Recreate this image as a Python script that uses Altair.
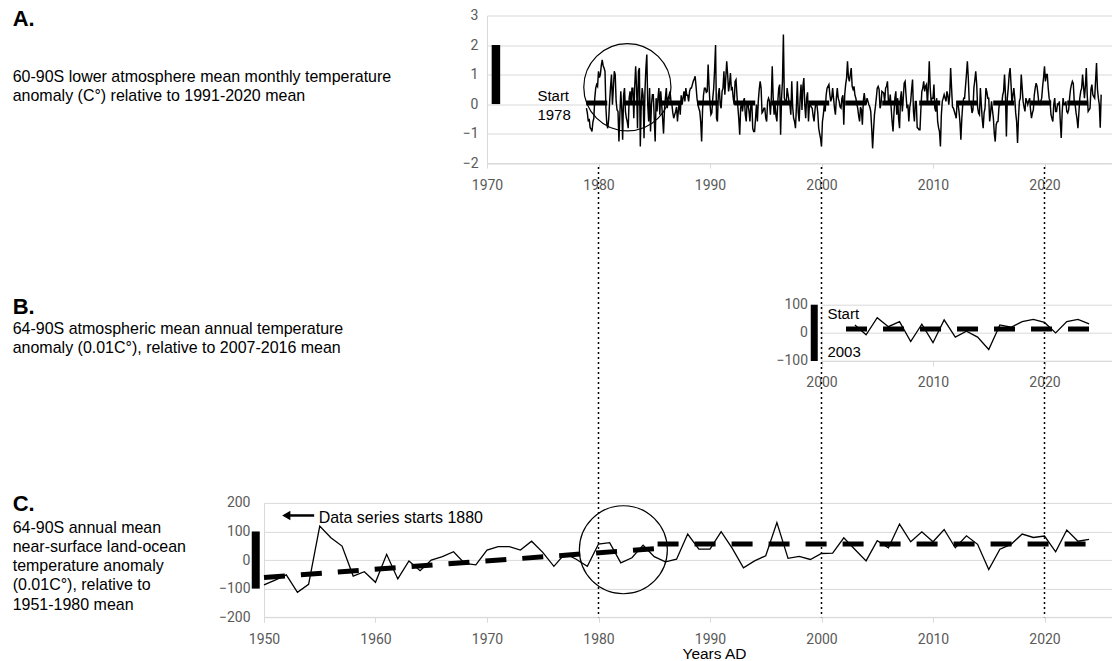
import altair as alt
import pandas as pd

# ---------------- data ----------------
# Panel A: 60-90S lower atmosphere monthly anomaly (deg C), Dec 1978 onward
A_1978_1989 = [
    -0.14,
    -0.3, -0.59, -0.5, -0.8, -0.85, -0.93, -0.6, -0.48, 0.2, 0.54, 0.66, 0.6,
    1.11, 0.9, 1.0, 1.3, 1.5, 1.3, 1.22, 1.11, -0.14, -0.7, -0.82, -0.5,
    0.09, 0.6, 1.0, -0.02, 0.54, 1.11, 1.0, 0.09, -0.2, -0.25, -1.27, -0.36,
    0.43, -0.14, -1.21, 0.3, 0.54, -0.25, -0.48, -0.6, -0.82, 0.2, 0.43, -0.02,
    0.54, 0.54, -0.48, 0.6, 1.28, 0.54, -0.82, 1.11, 1.22, -1.44, -0.02, 0.54,
    0.3, -1.16, 0.43, 1.2, 1.68, -0.02, -0.59, 0.54, -0.93, -0.02, 0.32, 0.32,
    -0.5, -1.27, 0.2, -0.25, 0.2, 0.54, -0.36, 0.43, -0.02, -0.48, -1.0, -0.2,
    0.2, 0.54, -0.14, 0.2, 0.3, 0.43, 0.1, -0.02, -0.3, -0.48, -0.36, -0.25,
    -0.1, -0.59, -0.2, 0.09, -0.36, 0.3, -0.02, 0.2, 0.43, 0.09, 0.54, 0.3,
    0.3, 0.09, 0.43, 0.54, 0.54, 0.66, 0.77, 0.85, 0.94, 0.6, 0.2, -0.02,
    -0.14, -0.25, -0.6, -1.27, -0.2, 0.3, 0.54, 0.54, 0.4, 0.43, 1.34, 0.6,
]
A_1990_1999 = [
    -0.02, -0.36, -0.3, 0.2, 0.54, 1.2, 2.0, -0.48, -0.59, 0.32, 0.54, -0.02,
    -0.14, 0.43, 0.54, 1.11, 0.32, 0.9, 1.45, 1.0, 0.43, 0.66, 1.05, 0.5,
    0.54, 0.2, -0.02, 0.77, 0.83, 0.3, -0.1, -0.5, -1.04, -0.14, 0.09, -0.25,
    0.1, 0.2, -0.36, -0.59, 0.09, -0.02, -0.25, -0.59, -0.02, 0.09, -0.82, -0.93,
    -0.93, -0.5, -0.02, -0.59, 0.1, 0.5, 0.77, 0.54, -0.3, -0.25, -0.14, -0.14,
    -0.48, -0.59, 0.09, 0.2, 0.1, -0.36, 0.2, 1.28, 0.2, -0.36, 0.0, -0.4,
    -0.59, 0.09, 0.54, 0.66, -1.04, 0.2, 0.77, 2.36, 0.2, 0.1, -0.02, 0.54,
    0.32, 0.1, -0.02, -0.36, 0.77, -0.1, -0.48, -0.59, -0.82, -0.1, 0.77, -0.3,
    -0.59, 0.2, 0.66, -0.2, 0.6, 0.88, -0.02, -0.48, 0.2, 0.4, -0.59, -0.02,
    -0.02, -0.1, -0.14, -0.4, -0.59, -0.2, 0.09, 0.0, -0.3, -0.82, -1.0, -1.16,
]
A_2000_2009 = [
    -1.44, -0.6, -0.36, -0.02, -0.25, 0.3, 0.54, 0.6, 0.66, 0.32, 0.09, 0.2,
    0.54, 0.2, -0.14, -0.36, 0.2, 0.54, 0.2, 0.09, -0.1, -0.14, 0.2, 0.3,
    -0.7, 0.32, 0.66, 0.88, 1.45, 0.9, 0.77, 1.0, 1.22, 0.6, 0.5, 0.6,
    0.3, 0.2, 0.0, -0.14, -0.4, -0.59, -0.1, -0.2, -0.7, 0.1, 0.37, 0.1,
    -0.02, 0.2, 0.1, -0.02, -0.1, -0.25, -0.8, -1.5, -0.9, -0.36, -0.1, 0.2,
    0.54, 0.6, 0.5, -0.14, -0.02, 0.43, 0.4, 0.37, 0.09, 0.54, 0.6, 0.77,
    0.1, -0.02, 0.32, -0.14, -0.6, -0.93, -0.3, 0.2, 0.43, -0.36, 0.2, -0.5,
    -0.82, 0.2, 0.43, -0.25, 0.2, 0.71, 0.77, 0.3, -0.14, -0.02, -0.59, -0.1,
    0.09, 0.5, 0.83, -0.25, -0.59, 0.09, 0.09, -0.8, -0.82, -0.87, -0.87, -0.14,
    0.43, 0.54, 0.77, 0.43, 0.6, 0.66, -0.02, 0.6, 1.45, 0.54, 0.09, 0.2,
]
A_2010_2019 = [
    0.2, 0.66, -0.14, -0.25, 0.2, -0.59, -0.8, -0.93, -1.44, -0.36, 0.09, 0.2,
    0.32, 0.2, 0.09, 0.43, 0.3, -0.02, 0.3, 1.22, 0.54, -0.1, -0.14, -0.25,
    -0.36, -0.48, 0.09, 0.0, -0.25, -0.6, -1.21, -0.5, -0.02, 0.2, 0.2, 0.6,
    1.0, 1.45, 0.88, 0.09, 0.0, -0.02, -0.3, -0.2, 0.54, 0.8, 1.11, 0.7,
    -0.1, -0.3, -0.36, 0.54, -0.02, -0.5, -0.82, -0.3, -0.14, 0.54, 0.4, 0.2,
    0.2, -0.59, -0.3, 0.09, -0.2, -0.48, -1.0, -1.27, -0.7, -0.6, -0.59, -0.1,
    0.09, -0.02, 0.0, 0.3, 0.43, 1.0, 0.3, -1.1, 0.2, 0.54, 1.0, 1.22,
    0.66, -0.02, 0.3, 0.54, 0.2, -0.3, -0.59, -1.32, -0.48, 0.1, 0.2, 1.0,
    0.54, 0.09, -0.1, -0.25, 0.2, 0.1, -0.02, 0.1, 0.2, -0.2, -0.48, -0.3,
    -0.2, 0.3, 0.54, 0.71, 0.6, 0.32, 0.0, -0.02, 0.1, 0.2, 0.6, 0.9,
]
A_2020_2025 = [
    1.28, 0.77, 1.0, 1.0, 0.54, 0.2, 0.09, -0.36, -0.48, -0.59, 0.0, 0.2,
    -0.25, -0.25, 0.0, -0.02, 0.09, -0.6, -1.15, -0.3, 0.2, -0.02, -0.02, 0.09,
    -0.25, -0.3, -0.2, 0.2, 0.5, 0.66, 0.77, 0.7, 0.1, -0.02, -0.3, -0.5,
    -0.82, -0.3, 0.2, 0.43, 0.54, 1.0, 0.6, 0.2, 0.6, 1.22, 0.3, -0.25,
    -0.2, -0.14, 0.5, 0.66, 0.32, 0.25, 0.2, 0.8, 1.39, 0.5, 0.2, -0.02,
    -0.8, 0.32,
]
A_MEAN_YEARS = [1978.9, 2025.0]
A_MEAN_VALUES = [0.04, 0.04]

# Panel B: 64-90S atmospheric annual anomaly (0.01 C)
B_YEARS = list(range(2003, 2025))
B_VALUES = [28, -7, 54, 22, 40, -31, 31, -35, 46, -15, 6, -15, -59, 28, 20,
            40, 48, 37, 0, 40, 48, 32]
B_MEAN_YEARS = [2002.2, 2024.3]
B_MEAN_VALUES = [14, 14]

# Panel C: 64-90S annual near-surface land-ocean anomaly (0.01 C)
C_YEARS = list(range(1950, 2025))
C_VALUES = [-87, -70, -52, -113, -85, 119, 78, 49, -56, -41,
            -78, 20, -66, -3, -37, 0, 12, 29, -12, -17,
            35, 47, 47, 35, 66, 27, -22, 23, 3, -22,
            56, 61, -10, 8, 52, 12, -6, 3, 91, 38,
            38, 99, 41, -27, -3, 15, 131, 6, 13, 2,
            23, 24, 78, 37, -3, 68, 43, 126, 64, 99,
            64, 107, 43, 85, 55, -33, 38, 55, 91, 79,
            84, 29, 105, 66, 72]
C_TREND_YEARS = [1950, 1985, 1985.3, 2024.5]
C_TREND_VALUES = [-61, 40, 56, 56]
C_TREND_SEGMENT = ["trend", "trend", "mean", "mean"]

GUIDE_YEARS = [1980, 2000, 2020]

# ---------------- styling ----------------
FONT = "Liberation Sans"
TICK_FONT = "Roboto"
GRID = "#d9d9d9"
LABEL = "#595959"
PX_PER_YEAR = 11.15
W = 847.4
DASH = [21, 16]


def xenc(start, values):
    return alt.X(
        "year:Q",
        scale=alt.Scale(domain=[start, 2026], range=[(start - 1950) * PX_PER_YEAR, W],
                        nice=False, zero=False),
        axis=alt.Axis(values=values, format="d", grid=False, domain=True,
                      domainColor=GRID, ticks=True, tickColor=GRID, tickSize=5,
                      labelPadding=10, labelFlush=False, labelOverlap=False, title=None),
    )


def yenc(domain, values, offset, pad):
    return alt.Y(
        "v:Q",
        scale=alt.Scale(domain=domain, nice=False, zero=False),
        axis=alt.Axis(values=values, grid=True, gridColor=GRID, domain=True,
                      domainColor=GRID, ticks=False, tickSize=0, labelPadding=pad,
                      offset=offset, title=None, labelOverlap=False),
    )


def side_text(lines, y, size=16, bold=False, lh=19):
    # y is the centre of the first line
    return alt.Chart(pd.DataFrame({"k": [0]})).mark_text(
        text=lines, align="left", baseline="middle", font=FONT, fontSize=size,
        fontWeight="bold" if bold else "normal", lineHeight=lh, color="black",
    ).encode(x=alt.value(12 - 263.3), y=alt.value(y))


# ---------------- panel A ----------------
a_vals = A_1978_1989 + A_1990_1999 + A_2000_2009 + A_2010_2019 + A_2020_2025
a_df = pd.DataFrame({"year": [1978 + 11 / 12 + i / 12 for i in range(len(a_vals))],
                     "v": a_vals})
xa = xenc(1970, [1970, 1980, 1990, 2000, 2010, 2020])
ya = yenc([-2, 3], [-2, -1, 0, 1, 2, 3], -223.0, 9)

a_line = alt.Chart(a_df).mark_line(color="black", strokeWidth=1.45).encode(x=xa, y=ya)
a_mean = alt.Chart(pd.DataFrame({"year": A_MEAN_YEARS, "v": A_MEAN_VALUES})).mark_line(
    color="black", strokeWidth=5, strokeDash=DASH, strokeCap="butt").encode(x=xa, y=ya)
a_bar = alt.Chart(pd.DataFrame({"year": [1970.8], "v": [0], "v2": [2]})).mark_rule(
    color="black", strokeWidth=8.5).encode(x=xa, y=ya, y2="v2:Q")
a_start = alt.Chart(pd.DataFrame({"year": [1974.52], "v": [0.27]})).mark_text(
    text=["Start", "1978"], align="left", baseline="middle", font=FONT, fontSize=15,
    lineHeight=19, color="black").encode(x=xa, y=ya)
a_circle = alt.Chart(pd.DataFrame({"year": [1982.59], "v": [0.57]})).mark_point(
    shape="circle", filled=False, size=7600, color="black", strokeWidth=1.2,
    opacity=1).encode(x=xa, y=ya)
a_title = side_text(["A."], 3.8, size=22, bold=True)
a_desc = side_text(["60-90S lower atmosphere mean monthly temperature",
                    "anomaly (C°) relative to 1991-2020 mean"], 61.3)
panel_a = alt.layer(a_line, a_mean, a_bar, a_start, a_circle, a_title, a_desc).properties(
    width=W, height=147.6)

# ---------------- panel B ----------------
xb = xenc(2000, [2000, 2010, 2020])
yb = yenc([-100, 100], [-100, 0, 100], -557.5, 14)
b_line = alt.Chart(pd.DataFrame({"year": B_YEARS, "v": B_VALUES})).mark_line(
    color="black", strokeWidth=1.3).encode(x=xb, y=yb)
b_mean = alt.Chart(pd.DataFrame({"year": B_MEAN_YEARS, "v": B_MEAN_VALUES})).mark_line(
    color="black", strokeWidth=5, strokeDash=DASH, strokeCap="butt").encode(x=xb, y=yb)
b_bar = alt.Chart(pd.DataFrame({"year": [1999.35], "v": [-100], "v2": [100]})).mark_rule(
    color="black", strokeWidth=7).encode(x=xb, y=yb, y2="v2:Q")
b_start = alt.Chart(pd.DataFrame({"year": [2000.53, 2000.53], "v": [67, -67],
                                  "t": ["Start", "2003"]})).mark_text(
    align="left", baseline="middle", font=FONT, fontSize=15, color="black").encode(
    x=xb, y=yb, text="t:N")
b_title = side_text(["B."], 2.5, size=22, bold=True)
b_desc = side_text(["64-90S atmospheric mean annual temperature",
                    "anomaly (0.01C°), relative to 2007-2016 mean"], 24.5)
panel_b = alt.layer(b_line, b_mean, b_bar, b_start, b_title, b_desc).properties(
    width=W, height=56.3)

# ---------------- panel C ----------------
xc = alt.X(
    "year:Q",
    scale=alt.Scale(domain=[1950, 2026], range=[0, W], nice=False, zero=False),
    axis=alt.Axis(values=list(range(1950, 2030, 10)), format="d", grid=False,
                  domain=True, domainColor=GRID, ticks=True, tickColor=GRID, tickSize=5,
                  labelPadding=10, labelFlush=False, labelOverlap=False,
                  title="Years AD", titleFont=FONT, titleFontSize=15.5,
                  titleFontWeight="normal", titleColor="black", titleX=450,
                  titleY=36.4, titleBaseline="middle", titleAlign="center"),
)
yc = yenc([-200, 200], [-200, -100, 0, 100, 200], 0, 14)
c_line = alt.Chart(pd.DataFrame({"year": C_YEARS, "v": C_VALUES})).mark_line(
    color="black", strokeWidth=1.3).encode(x=xc, y=yc)
c_trend = alt.Chart(pd.DataFrame({"year": C_TREND_YEARS, "v": C_TREND_VALUES,
                                  "seg": C_TREND_SEGMENT})).mark_line(
    color="black", strokeWidth=5, strokeDash=DASH, strokeCap="butt").encode(
    x=xc, y=yc, detail="seg:N")
c_bar = alt.Chart(pd.DataFrame({"year": [1949.26], "v": [-100], "v2": [100]})).mark_rule(
    color="black", strokeWidth=8).encode(x=xc, y=yc, y2="v2:Q")
c_arrow = alt.Chart(pd.DataFrame({"year": [1952.0], "v": [156], "year2": [1954.5]})).mark_rule(
    color="black", strokeWidth=2.5).encode(x=xc, x2="year2:Q", y=yc)
c_head = alt.Chart(pd.DataFrame({"year": [1952.0], "v": [156]})).mark_point(
    shape="triangle-left", filled=True, size=90, color="black", opacity=1).encode(x=xc, y=yc)
c_note = alt.Chart(pd.DataFrame({"year": [1954.9], "v": [147]})).mark_text(
    text="Data series starts 1880", align="left", baseline="middle", font=FONT,
    fontSize=16, color="black").encode(x=xc, y=yc)
c_circle = alt.Chart(pd.DataFrame({"year": [1982.23], "v": [36]})).mark_point(
    shape="circle", filled=False, size=7744, color="black", strokeWidth=1.2,
    opacity=1).encode(x=xc, y=yc)
c_guides = alt.Chart(pd.DataFrame({"year": GUIDE_YEARS})).mark_rule(
    color="black", strokeWidth=1.5, strokeDash=[2, 3]).encode(
    x=xc, y=alt.value(-336), y2=alt.value(114.3))
c_title = side_text(["C."], 1.5, size=22, bold=True)
c_desc = side_text(["64-90S annual mean", "near-surface land-ocean",
                    "temperature anomaly", "(0.01C°), relative to",
                    "1951-1980 mean"], 25.0, lh=19.2)
panel_c = alt.layer(c_line, c_trend, c_bar, c_arrow, c_head, c_note, c_circle,
                    c_guides, c_title, c_desc).properties(width=W, height=114.3)

chart = alt.vconcat(panel_a, panel_b, panel_c, spacing=141.2, bounds="flush").properties(
    padding={"left": 12, "top": 7.5, "right": 2, "bottom": 2},
    background="white",
).configure_view(stroke=None).configure_axis(
    labelFont=TICK_FONT, labelFontSize=14, labelColor=LABEL,
)

chart.save("out.html", embed_options={"renderer": "svg", "actions": False})
